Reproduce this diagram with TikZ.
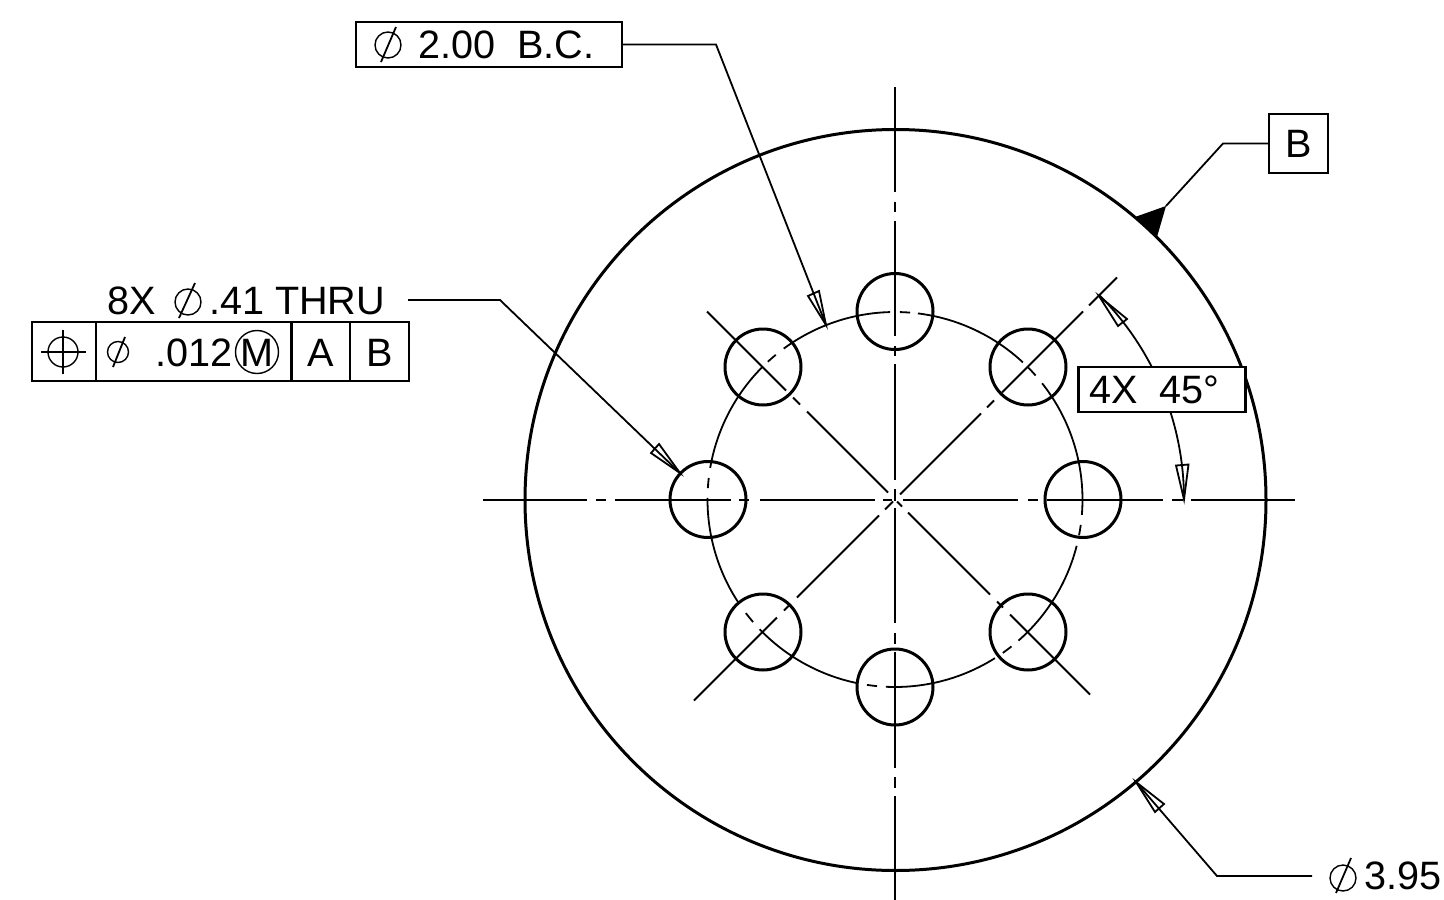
\documentclass[tikz,border=0pt]{standalone}
\usepackage{fontspec}
\setmainfont{Liberation Sans}
\newcommand{\dwgarc}[3]{\draw[#3] ({895+187.5*cos(#1)},{499.5-187.5*sin(#1)}) arc[start angle=#1,end angle=#2,radius=187.5pt];}
\newcommand{\dimarc}[3]{\draw[#3] ({895+289*cos(#1)},{499.5-289*sin(#1)}) arc[start angle=#1,end angle=#2,radius=289pt];}
\newcommand{\dwgdiag}[4]{\draw[#4] ({895+#1},{499.5+#1*#2}) -- ({895+#3},{499.5+#3*#2});}
\tikzset{
  thin line/.style={line width=1.8pt},
  center line/.style={line width=2.2pt},
  leader/.style={line width=1.8pt,line join=miter},
  hole/.style={circle,draw=black,line width=3pt,inner sep=0pt,outer sep=0pt,minimum size=76pt},
  framebox/.style={rectangle,draw=black,line width=2.1pt,fill=white,inner sep=0pt,outer sep=0pt},
  dwgtext/.style={inner sep=0pt,outer sep=0pt,anchor=base west,font=\fontsize{39.6}{40}\selectfont},
  dia/.style={circle,draw=black,line width=1.4pt,inner sep=0pt,outer sep=0pt},
}
\begin{document}
\begin{tikzpicture}[x=1pt,y=-1pt]
\useasboundingbox (0,0) rectangle (1444,900);
\fill[white] (0,0) rectangle (1444,900);
% outer disc
\node[circle,draw=black,line width=3pt,inner sep=0pt,outer sep=0pt,minimum size=741pt] (disc) at (895.5,500) {};
% holes
\node[hole] (h1) at (1083,499.5) {};
\node[hole] (h2) at (1028,367) {};
\node[hole] (h3) at (895,311.5) {};
\node[hole] (h4) at (763,367) {};
\node[hole] (h5) at (708,499.5) {};
\node[hole] (h6) at (763,632) {};
\node[hole] (h7) at (895,687) {};
\node[hole] (h8) at (1028,632) {};
% horizontal centre line
\foreach \a/\b in {483/587,596/606,615/731,739/749,760/875,883/892,903/1018,1028/1038,1047/1163,1172/1183,1191/1295}
  \draw[center line] (\a,499.7) -- (\b,499.7);
% vertical centre line
\foreach \a/\b in {87/192,202/212,221/336,346/356,364/480,489/501,508/623,633/644,652/768,777/788,796/900}
  \draw[center line] (895,\a) -- (895,\b);
% diagonal rising to the right
\foreach \a/\b in {-201/-118,-111/-106,-98/-16,-10/-2,5/86,92/99,107/188,194/222}
  {\dwgdiag{\a}{(-1)}{\b}{thin line}}
% diagonal falling to the right
\foreach \a/\b in {-188/-109,-102/-95,-88/-7,2/7,13/95,102/108,115/195}
  {\dwgdiag{\a}{(1)}{\b}{thin line}}
% bolt circle
\foreach \a/\b in {47/83,41.4/45,-4.7/38.3,-11/-7.8,-48.8/-14.3,-54.9/-51.6,-92.8/-57.8,-98.6/-95.5,-136.2/-101.7,-142.7/-139.2,-180.5/-146.6,-186.6/-183.5,135/170.3,129.5/132.7,91.5/126.4,85.4/88.5}
  {\dwgarc{\a}{\b}{thin line}}
% angular dimension
\dimarc{0}{45}{thin line}
\coordinate (angtipa) at (1099,296);
\coordinate (angtipb) at (1184,499.5);
\draw[thin line] (angtipa) -- (1118,326) -- (1127,319) -- cycle;
\draw[thin line] (angtipb) -- (1176,465.5) -- (1188.5,464.5) -- cycle;
\node[framebox,minimum width=167pt,minimum height=45pt] (angbox) at (1162,389.5) {};
\node[dwgtext] (angtxt) at (1089,403) {4X\hspace{22pt}45°};
% bolt circle callout
\node[framebox,minimum width=266pt,minimum height=45pt] (bcbox) at (489,44.5) {};
\coordinate (bcelbow) at (716,44.5);
\coordinate (bctip) at (826,325);
\draw[leader] (bcbox.east) -- (bcelbow) -- (bctip);
\draw[thin line] (bctip) -- (808,296) -- (819,291) -- cycle;
\node[dia,minimum size=26pt] (bcdia) at (388,45) {};
\draw[thin line] (381,62) -- (396,27);
\node[dwgtext] (bctxt) at (418,58) {2.00\hspace{22pt}B.C.};
% datum
\node[framebox,minimum width=59pt,minimum height=59pt] (datum) at (1298.5,143.5) {};
\node[dwgtext,anchor=base] (datumtxt) at (1298.5,157) {B};
\coordinate (datelbow) at (1223,143.5);
\coordinate (dattri) at (1166,206);
\draw[leader] (datum.west) -- (datelbow) -- (dattri);
\fill[black] (dattri) -- (1135,217) -- (1157,237) -- cycle;
% hole callout
\coordinate (hlstart) at (408,300);
\coordinate (hlelbow) at (500,300);
\coordinate (hltip) at (680,473);
\draw[leader] (hlstart) -- (hlelbow) -- (hltip);
\draw[thin line] (hltip) -- (651,453) -- (659,444) -- cycle;
\node[dwgtext] (eightx) at (107,314) {8X};
\node[dia,minimum size=26pt] (hldia) at (188,302) {};
\draw[thin line] (179,318) -- (195,283);
\node[dwgtext] (thru) at (209,314) {.41 THRU};
% feature control frame
\node[framebox,minimum width=64pt,minimum height=59pt] (fa) at (64,351.5) {};
\node[framebox,minimum width=195.5pt,minimum height=59pt] (fb) at (193.75,351.5) {};
\node[framebox,minimum width=58.5pt,minimum height=59pt] (fc) at (320.75,351.5) {};
\node[framebox,minimum width=59pt,minimum height=59pt] (fd) at (379.5,351.5) {};
\node[dia,minimum size=30pt] (pos) at (63,352) {};
\draw[thin line] (41,352) -- (86,352);
\draw[thin line] (63,330) -- (63,374);
\node[dia,minimum size=21pt] (fdia) at (118,352) {};
\draw[thin line] (113,367) -- (125,337);
\node[dwgtext] (tol) at (155,366) {.012};
\node[dwgtext,anchor=base] (mm) at (257,366) {M};
\node[dia,minimum size=43pt] (mc) at (257,352) {};
\node[dwgtext,anchor=base] (da) at (320.75,366) {A};
\node[dwgtext,anchor=base] (db) at (379.5,366) {B};
% disc size callout
\coordinate (odstart) at (1312,876);
\coordinate (odelbow) at (1217,876);
\coordinate (odtip) at (1136,782);
\draw[leader] (odstart) -- (odelbow) -- (odtip);
\draw[thin line] (odtip) -- (1155,812) -- (1164,804) -- cycle;
\node[dia,minimum size=26pt] (oddia) at (1343,878) {};
\draw[thin line] (1336,893) -- (1351,858);
\node[dwgtext] (odtxt) at (1364,889) {3.95};
\end{tikzpicture}
\end{document}
